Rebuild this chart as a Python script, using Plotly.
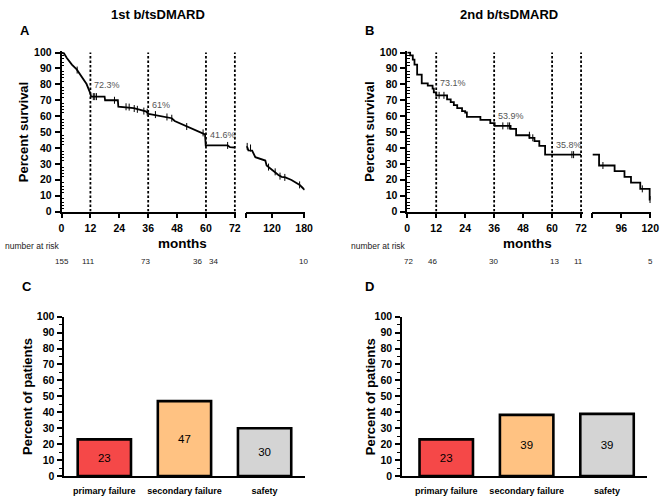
import plotly.graph_objects as go

W, H = 669, 497

# ---------------- data ----------------
# Panel A: 1st b/tsDMARD survival (months, % survival)
a_early_t = [0, 1, 2.2, 4.3, 6.3, 8.4, 10.4, 11.8, 12.3, 17.9, 18.1, 23.4, 23.6, 30, 35, 36.2, 40, 45.8, 47, 50.6, 53, 58.8, 59.6, 59.9, 69, 70, 72]
a_early_s = [100, 99.5, 96.6, 92.4, 89.4, 84.3, 80.2, 75, 72.3, 72.3, 70, 70, 66, 65, 63, 61.5, 60.5, 58.7, 57, 54.6, 53, 49.5, 48.5, 41.6, 41.6, 40.5, 40.3]
a_late_t = [72, 74, 76, 83, 89, 100, 107.6, 110, 113.6, 118, 126, 132, 138, 145, 156.4, 165, 171.8, 177, 180.9]
a_late_s = [41, 40.5, 38.5, 38.3, 34.2, 33, 32.1, 29, 28, 27, 25, 23, 21.9, 21.5, 19.9, 18, 16.8, 15, 13.7]
a_cens_t = [6.5, 13.2, 13.8, 14.5, 22, 26.8, 28.1, 30.2, 31.5, 34.2, 35.6, 39, 43.8, 45.8, 52, 58.8, 69]
a_cens_s = [89, 72.3, 72.3, 72.3, 70, 65.9, 65.7, 64.8, 64.3, 63.2, 62.5, 61, 59.5, 58.7, 53.5, 49.5, 41.6]
a_cens_late_t = [73.8, 80, 113.6, 126, 135, 144, 171.6]
a_cens_late_s = [41, 40, 28, 25, 22.3, 21.5, 16.8]

# Panel B: 2nd b/tsDMARD survival (step function)
b_early_t = [0, 1.2, 2.3, 3.0, 4.1, 6.0, 8.5, 10.5, 11.0, 12.0, 16.5, 18.0, 19.3, 20.7, 22.7, 24.0, 24.7, 30.3, 34.4, 36.2, 42.8, 45.1, 50.6, 52.7, 54.7, 57.1, 72]
b_early_s = [100, 98.2, 95.5, 92.4, 86.1, 80.6, 79.2, 77.3, 75.0, 73.1, 70.6, 68.8, 66.9, 65.0, 63.2, 62.3, 59.5, 57.7, 55.6, 53.9, 52.0, 48.0, 46.4, 44.3, 41.3, 35.8, 35.8]
b_late_t = [72, 77.5, 90.4, 98.6, 104, 111.7, 119.5, 120]
b_late_s = [35.8, 29.0, 25.4, 21.9, 18.2, 14.3, 7.6, 7.6]
b_cens_t = [13.2, 15.2, 39.6, 41.7, 42.4, 50.6, 52, 68.2, 68.9]
b_cens_s = [73.1, 73.1, 53.9, 53.9, 53.9, 48, 46.4, 35.8, 35.8]
b_cens_late_t = [80.7, 113.4, 119.8]
b_cens_late_s = [29, 14.3, 7.6]

landmarks = [12, 36, 60, 72]
a_mark_t = [12, 36, 60]
a_mark_v = [72.3, 61, 41.6]
a_mark_txt = ["72.3%", "61%", "41.6%"]
b_mark_t = [12, 36, 60]
b_mark_v = [73.1, 53.9, 35.8]
b_mark_txt = ["73.1%", "53.9%", "35.8%"]

a_risk_t = [0, 12, 36, 60, 72, 180]
a_risk_n = [155, 111, 73, 36, 34, 10]
b_risk_t = [0, 12, 36, 60, 72, 120]
b_risk_n = [72, 46, 30, 13, 11, 5]

a_ticks = [0, 12, 24, 36, 48, 60, 72]
a_late_ticks = [72, 120, 180]
b_late_ticks = [72, 96, 120]

reasons = ["primary failure", "secondary failure", "safety"]
c_pct = [23, 47, 30]
c_txt = ["23", "47", "30"]
d_pct = [23, 38.4, 39]
d_txt = ["23", "39", "39"]
bar_colors = ["#F54848", "#FFC282", "#D4D4D4"]

# ---------------- helpers ----------------
def px_x(p):
    return p / W

def px_y(p):
    return 1 - p / H

FONT = "Liberation Sans, Arial, sans-serif"
tickf = dict(family=FONT, size=10.5, color="black", weight="bold")

fig = go.Figure()

line_kw = dict(color="black", width=1.8)
cens_kw = dict(symbol="line-ns", size=5, line=dict(color="black", width=1))

def add_curve(t, s, xa, ya, shape):
    fig.add_trace(go.Scatter(x=t, y=s, mode="lines", line=dict(shape=shape, **line_kw),
                             xaxis=xa, yaxis=ya, hoverinfo="skip", cliponaxis=False))

def add_cens(t, s, xa, ya):
    fig.add_trace(go.Scatter(x=t, y=s, mode="markers", marker=cens_kw,
                             xaxis=xa, yaxis=ya, hoverinfo="skip", cliponaxis=False))

def add_landmarks(xa, ya):
    for lm in landmarks:
        fig.add_trace(go.Scatter(x=[lm, lm], y=[0, 100], mode="lines",
                                 line=dict(color="black", width=1.8, dash="2.5px,2px"),
                                 xaxis=xa, yaxis=ya, hoverinfo="skip"))

add_landmarks("x", "y")
add_curve(a_early_t, a_early_s, "x", "y", "linear")
add_curve(a_late_t, a_late_s, "x2", "y", "linear")
add_cens(a_cens_t, a_cens_s, "x", "y")
add_cens(a_cens_late_t, a_cens_late_s, "x2", "y")

add_landmarks("x3", "y2")
add_curve(b_early_t, b_early_s, "x3", "y2", "hv")
add_curve(b_late_t, b_late_s, "x4", "y2", "hv")
add_cens(b_cens_t, b_cens_s, "x3", "y2")
add_cens(b_cens_late_t, b_cens_late_s, "x4", "y2")

for vals, txt, xa, ya in [(c_pct, c_txt, "x5", "y3"), (d_pct, d_txt, "x6", "y4")]:
    fig.add_trace(go.Bar(x=reasons, y=vals, text=txt, textposition="inside",
                         insidetextanchor="middle",
                         insidetextfont=dict(family=FONT, size=11.5, color="black"),
                         marker=dict(color=bar_colors, line=dict(color="black", width=2.6)),
                         width=0.665, xaxis=xa, yaxis=ya, hoverinfo="skip"))

# ---------------- axes ----------------
def surv_x(domain, rng, tickvals, ticktext, anchor):
    return dict(domain=domain, range=rng, anchor=anchor, tickvals=tickvals, ticktext=ticktext,
                showline=True, linecolor="black", linewidth=1.6, ticks="outside",
                ticklen=5, tickwidth=1.6, tickcolor="black", tickfont=tickf,
                showgrid=False, zeroline=False, ticklabelstandoff=1)

def surv_y(domain, anchor):
    return dict(domain=domain, range=[0, 100.8], anchor=anchor, tickvals=list(range(0, 101, 10)),
                showline=True, linecolor="black", linewidth=1.6, ticks="outside",
                ticklen=5, tickwidth=1.6, tickcolor="black", tickfont=tickf,
                minor=dict(tickvals=[v for v in range(0, 101, 2) if v % 10], ticks="inside",
                           ticklen=3, tickwidth=1, tickcolor="black"),
                showgrid=False, zeroline=False, ticklabelstandoff=1)

def bar_x(domain, rng, anchor):
    return dict(domain=domain, range=rng, anchor=anchor, type="category",
                showline=True, linecolor="black", linewidth=1.6, ticks="",
                tickfont=dict(family=FONT, size=9, color="black", weight="bold"),
                showgrid=False, zeroline=False, ticklabelstandoff=5)

def bar_y(domain, anchor):
    return dict(domain=domain, range=[0, 100], anchor=anchor, tickvals=list(range(0, 101, 10)),
                showline=True, linecolor="black", linewidth=1.6, ticks="outside",
                ticklen=5, tickwidth=1.6, tickcolor="black", tickfont=tickf,
                minor=dict(tickvals=list(range(5, 100, 10)), ticks="outside",
                           ticklen=3, tickwidth=1, tickcolor="black"),
                showgrid=False, zeroline=False, ticklabelstandoff=1)

surv_ydom = [px_y(210.7), px_y(46.4)]
bar_ydom = [px_y(481.7), px_y(318.3)]

fig.update_layout(
    xaxis=surv_x([px_x(59.5), px_x(237.2)], [0, 72.6], a_ticks, [str(v) for v in a_ticks], "y"),
    xaxis2=surv_x([px_x(247.3), px_x(306.7)], [72, 181], a_late_ticks, [""] + [str(v) for v in a_late_ticks[1:]], "y"),
    yaxis=surv_y(surv_ydom, "x"),
    xaxis3=surv_x([px_x(411), px_x(589.2)], [0, 72.6], a_ticks, [str(v) for v in a_ticks], "y2"),
    xaxis4=surv_x([px_x(599.3), px_x(659.3)], [72, 121], b_late_ticks, [""] + [str(v) for v in b_late_ticks[1:]], "y2"),
    yaxis2=surv_y(surv_ydom, "x3"),
    xaxis5=bar_x([px_x(62.3), px_x(306.7)], [-0.5, 2.5], "y3"),
    yaxis3=bar_y(bar_ydom, "x5"),
    xaxis6=bar_x([px_x(405.7), px_x(655)], [-0.55, 2.5], "y4"),
    yaxis4=bar_y(bar_ydom, "x6"),
)

# ---------------- annotations ----------------
ann = []
def text(x, y, s, size, bold=False, color="black", xanchor="center", angle=0, xref="paper", yref="paper",
         xshift=0, yshift=0):
    ann.append(dict(x=x, y=y, xref=xref, yref=yref, text=s, showarrow=False, xanchor=xanchor,
                    yanchor="middle", textangle=angle, xshift=xshift, yshift=yshift,
                    font=dict(family=FONT, size=size, color=color, weight="bold" if bold else "normal")))

text(px_x(157.5), px_y(9), "1st b/tsDMARD", 13, True)
text(px_x(514), px_y(9), "2nd b/tsDMARD", 13, True)
for lab, x, y in [("A", 22, 25), ("B", 372.5, 25), ("C", 24, 287), ("D", 373, 287)]:
    text(px_x(x), px_y(y), lab, 13, True)
text(px_x(21.7), px_y(129), "Percent survival", 13, True, angle=-90)
text(px_x(373), px_y(129), "Percent survival", 13, True, angle=-90)
text(px_x(25), px_y(400), "Percent of patients", 13, True, angle=-90)
text(px_x(373), px_y(400), "Percent of patients", 13, True, angle=-90)
text(px_x(182.5), px_y(243.5), "months", 13.5, True)
text(px_x(533.3), px_y(243.5), "months", 13.5, True)
text(0, px_y(246), "number at risk", 8.5, color="#222", xanchor="left")
text(px_x(351.7), px_y(246), "number at risk", 8.5, color="#222", xanchor="left")

a_mark_shift = [12, 9.5, 10]
b_mark_shift = [12.5, 10, 10]
for t, s, v, ys in zip(a_mark_t, a_mark_txt, a_mark_v, a_mark_shift):
    text(t, v, s, 9, color="#555", xanchor="left", xref="x", yref="y", xshift=2, yshift=ys)
for t, s, v, ys in zip(b_mark_t, b_mark_txt, b_mark_v, b_mark_shift):
    text(t, v, s, 9, color="#555", xanchor="left", xref="x3", yref="y2", xshift=2, yshift=ys)

a_risk_shift = [0, -1.5, -3, -8, -21, -1]
b_risk_shift = [1.5, -4, -1, 2, -3, 0]
for i, (t, n) in enumerate(zip(a_risk_t, a_risk_n)):
    text(t, px_y(262), str(n), 8, color="#222", xref="x" if t <= 72 else "x2", xshift=a_risk_shift[i])
for i, (t, n) in enumerate(zip(b_risk_t, b_risk_n)):
    text(t, px_y(262), str(n), 8, color="#222", xref="x3" if t < 72 or i == 4 else "x4", xshift=b_risk_shift[i])

fig.update_layout(annotations=ann, width=W, height=H, margin=dict(l=0, r=0, t=0, b=0),
                  paper_bgcolor="white", plot_bgcolor="white", showlegend=False,
                  font=dict(family=FONT), bargap=0.3)

fig.write_html("out.html", config={"displayModeBar": False},
               post_script="document.body.style.margin='0';document.body.style.padding='0';"
                           "document.body.style.overflow='hidden';")
